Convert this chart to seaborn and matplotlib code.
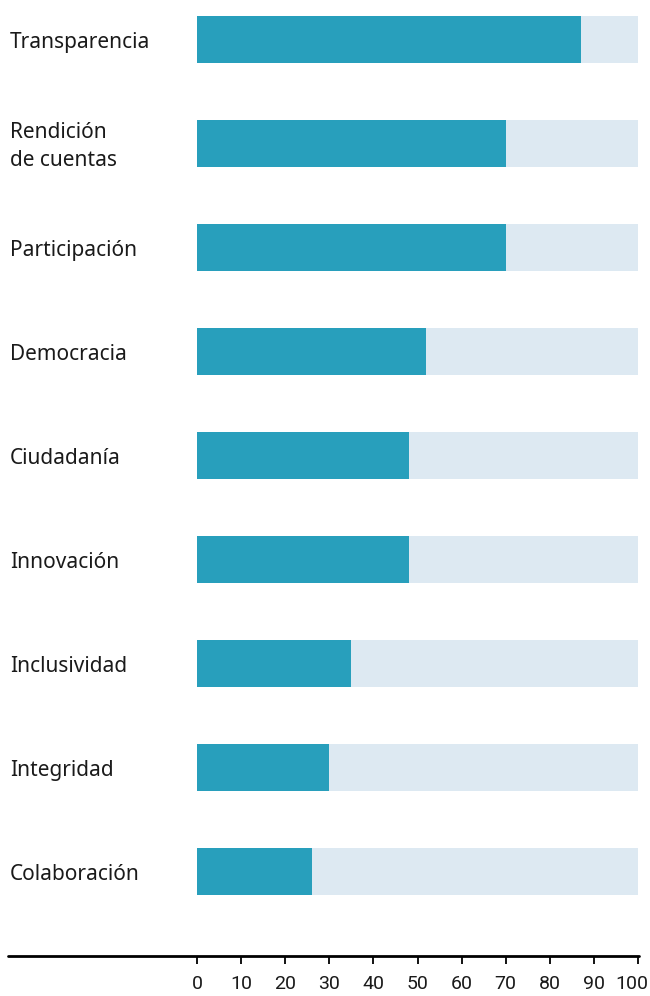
import matplotlib
matplotlib.use("Agg")
import matplotlib.pyplot as plt
import matplotlib.transforms as mtransforms
from matplotlib.lines import Line2D
import seaborn as sns
import pandas as pd

# data
categories = ["Transparencia", "Rendición\nde cuentas", "Participación", "Democracia",
              "Ciudadanía", "Innovación", "Inclusividad", "Integridad", "Colaboración"]
values = [87, 70, 70, 52, 48, 48, 35, 30, 26]
full = [100] * len(categories)
xticks = [0, 10, 20, 30, 40, 50, 60, 70, 80, 90, 100]

df = pd.DataFrame({"cat": categories, "value": values, "full": full})

sns.set_theme(style="white")
plt.rcParams["font.family"] = ["Noto Sans", "DejaVu Sans"]

fig = plt.figure(figsize=(6.5, 9.96), dpi=100)
ax = fig.add_axes([197 / 650, 1 - 956 / 996, (638 - 197) / 650, 956 / 996])

sns.barplot(data=df, x="full", y="cat", color="#dde9f2", width=0.452,
            saturation=1, ax=ax, orient="h", linewidth=0)
sns.barplot(data=df, x="value", y="cat", color="#289fbc", width=0.452,
            saturation=1, ax=ax, orient="h", linewidth=0)

ax.set_xlim(0, 100)
ax.set_ylim(8.8125, -0.38)
ax.set_xlabel("")
ax.set_ylabel("")
ax.set_yticks([])
for s in ["top", "right", "left", "bottom"]:
    ax.spines[s].set_visible(False)

# category labels, left aligned at the figure edge
trans = mtransforms.blended_transform_factory(fig.transFigure, ax.transData)
for i, c in enumerate(categories):
    ax.text(10 / 650, i + 0.025, c, transform=trans, ha="left", va="center",
            fontsize=15, color="#1a1a1a", linespacing=1.45)

# axis line spanning from the left edge
y_axis = 1 - 956 / 996
fig.add_artist(Line2D([8 / 650, 639 / 650], [y_axis, y_axis], color="black", lw=2))

ax.set_xticks(xticks)
ax.set_xticklabels([str(t) for t in xticks], family=["Roboto", "DejaVu Sans"])
ax.tick_params(axis="x", which="major", direction="out", length=6, width=1.3,
               color="black", bottom=True, pad=8, labelsize=14, labelcolor="#1a1a1a")
ax.set_xticks([0, 100], minor=True)
ax.tick_params(axis="x", which="minor", direction="inout", length=16, width=2,
               color="black", bottom=True)

# nudge the last label so it stays inside the figure
last = ax.get_xticklabels()[-1]
last.set_transform(last.get_transform() +
                   mtransforms.ScaledTranslation(-6 / 100, 0, fig.dpi_scale_trans))

fig.savefig("out.png", dpi=100)
